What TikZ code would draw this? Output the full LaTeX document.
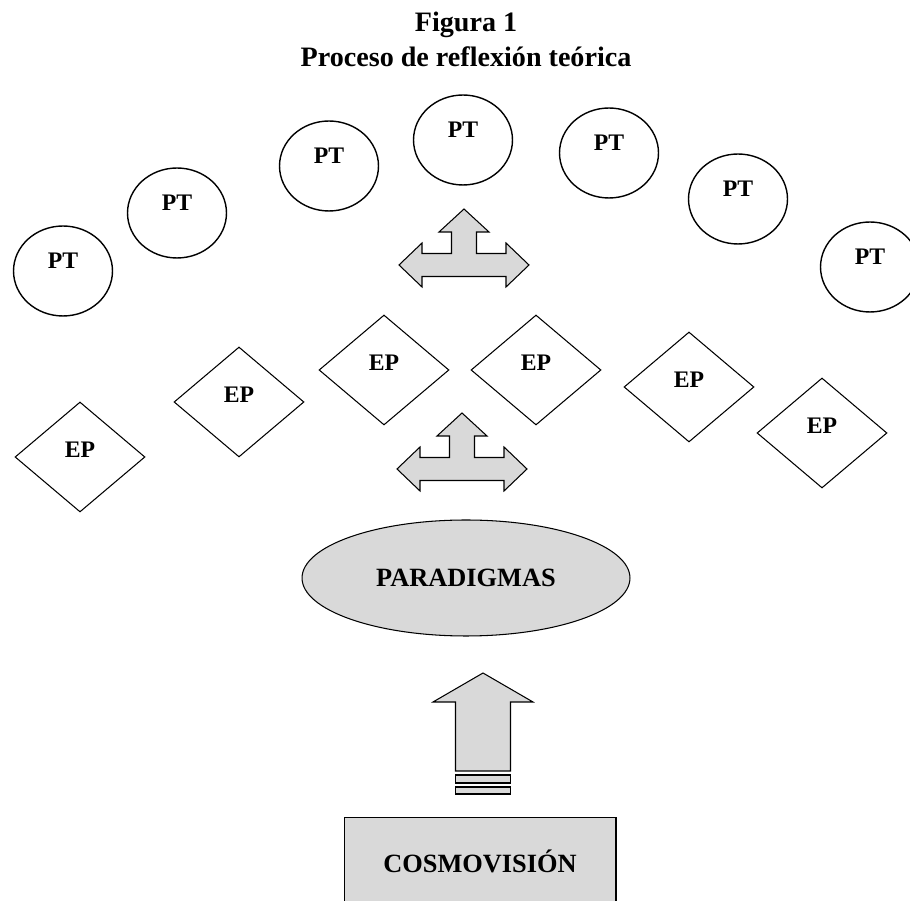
\documentclass[tikz,border=0pt]{standalone}
\usepackage{fontspec}
\setmainfont{Liberation Serif}
\usetikzlibrary{shapes.geometric}
\definecolor{ShapeGray}{RGB}{217,217,217}

\tikzset{
  blockarrow/.style={draw, fill=ShapeGray, line width=0.6pt, line join=miter},
  triarrow/.pic={
    \draw[blockarrow] (0,-56) -- (25,-33) -- (12.5,-33) -- (12.5,-11.5) -- (42,-11.5) -- (42,-22)
      -- (65,0) -- (42,22) -- (42,11.5) -- (-42,11.5) -- (-42,22) -- (-65,0) -- (-42,-22)
      -- (-42,-11.5) -- (-12.5,-11.5) -- (-12.5,-33) -- (-25,-33) -- cycle;
  },
  stripearrow/.pic={
    \draw[blockarrow] (0,-29) -- (50,0) -- (27.5,0) -- (27.5,69) -- (-27.5,69) -- (-27.5,0) -- (-50,0) -- cycle;
    \draw[blockarrow] (-27.5,73) rectangle (27.5,81);
    \draw[blockarrow] (-27.5,85) rectangle (27.5,92);
  }
}

\begin{document}
\begin{tikzpicture}[
  x=0.02cm, y=-0.02cm,
  every node/.style={font=\bfseries\fontsize{13.5}{16}\selectfont},
  ptcirc/.style={draw, ellipse, line width=0.8pt, minimum width=1.98cm, minimum height=1.8cm, inner sep=0pt},
  epbox/.style={draw, diamond, line width=0.6pt, minimum width=2.6cm, minimum height=2.2cm, inner sep=0pt},
  ptlbl/.style={yshift=0.2cm},
  eplbl/.style={yshift=0.14cm},
  bigtext/.style={font=\bfseries\fontsize{15}{18}\selectfont},
  titletext/.style={font=\bfseries\fontsize{16}{19}\selectfont, anchor=base}
]
\useasboundingbox (0,0) rectangle (910,901);
\clip (0,0) rectangle (910,901);

% title
\node[titletext] (fig) at (466,32) {Figura 1};
\node[titletext] (figname) at (466,67) {Proceso de reflexión teórica};

% theories
\foreach \x/\y [count=\i] in {63/271, 177/213, 329/166, 463/140, 609/153, 738/199, 870/267}
  \node[ptcirc, label={[ptlbl]center:PT}] (pt\i) at (\x,\y) {};

% epistemes
\foreach \x/\y [count=\i] in {80/457, 239/402, 384/370, 536/370, 689/387, 822/433}
  \node[epbox, label={[eplbl]center:EP}] (ep\i) at (\x,\y) {};

\pic at (464,265) {triarrow};
\pic at (462,469) {triarrow};

\node[draw, ellipse, fill=ShapeGray, line width=0.6pt, minimum width=6.56cm, minimum height=2.32cm, bigtext] (para) at (466,578) {PARADIGMAS};

\pic at (483,702) {stripearrow};

\node[draw, fill=ShapeGray, line width=0.6pt, anchor=north, minimum width=5.44cm, minimum height=1.76cm, bigtext] (cosmo) at (480,817) {COSMOVISIÓN};
\end{tikzpicture}
\end{document}
